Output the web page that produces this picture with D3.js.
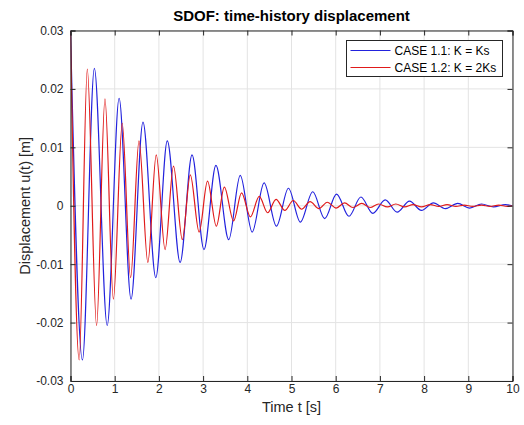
<!DOCTYPE html>
<html>
<head>
<meta charset="utf-8">
<script src="https://cdn.jsdelivr.net/npm/d3@7"></script>
<style>
    body { margin: 0; background: #ffffff; }
    text { font-family: "Liberation Sans", Arial, sans-serif; }
</style>
</head>
<body>
<div id="canvas"></div>
<script>
"use strict"

/* Data: extrema (peaks and troughs) of each response */
/* CASE 1.1: K = Ks */
let case1Time = [0, 0.27, 0.54, 0.83, 1.10, 1.37, 1.64, 1.93, 2.19, 2.48, 2.75, 3.02, 3.29, 3.58,
    3.84, 4.11, 4.38, 4.66, 4.93, 5.20, 5.48, 5.75, 6.02, 6.30, 6.57, 6.84, 7.12, 7.39, 7.67,
    7.94, 8.21, 8.48, 8.76, 9.03, 9.30, 9.57, 9.84, 10];
let case1Disp = [0.03, -0.0264, 0.0235, -0.0205, 0.0184, -0.0160, 0.0143, -0.0123, 0.0111, -0.0097,
    0.0087, -0.0075, 0.0069, -0.0058, 0.0052, -0.0045, 0.0039, -0.0035, 0.0030, -0.0028, 0.0024,
    -0.0022, 0.0020, -0.0018, 0.0015, -0.0013, 0.0010, -0.0011, 0.0008, -0.0008, 0.0005, -0.0005,
    0.0004, -0.0004, 0.0003, -0.0002, 0.0002, 0.0000];

/* CASE 1.2: K = 2Ks */
let case2Time = [0, 0.196, 0.38, 0.59, 0.78, 0.97, 1.17, 1.36, 1.55, 1.75, 1.94, 2.14, 2.33, 2.53,
    2.71, 2.91, 3.10, 3.30, 3.48, 3.69, 3.87, 4.07, 4.27, 4.46, 4.65, 4.85, 5.04, 5.23, 5.42, 5.62,
    5.81, 6.01, 6.20, 6.39, 6.59, 6.78, 6.97, 7.17, 7.36, 7.56, 7.75, 7.94, 8.14, 8.33, 8.52, 8.72,
    8.91, 9.10, 9.30, 9.49, 9.69, 9.88, 10];
let case2Disp = [0.03, -0.0264, 0.0234, -0.0205, 0.0183, -0.0160, 0.0141, -0.0123, 0.0111, -0.0097,
    0.0087, -0.0075, 0.0068, -0.0058, 0.0053, -0.0045, 0.0042, -0.0035, 0.0032, -0.0026, 0.0022,
    -0.0019, 0.0016, -0.0012, 0.0011, -0.0008, 0.0009, -0.0006, 0.0007, -0.0005, 0.0006, -0.0004,
    0.0005, -0.0003, 0.0004, -0.0003, 0.0003, -0.0002, 0.0003, -0.0002, 0.0002, -0.0002, 0.0002,
    -0.0001, 0.0002, -0.0001, 0.0001, -0.0001, 0.0001, -0.0001, 0.0001, -0.0001, 0.0000];

let xTicks = [0, 1, 2, 3, 4, 5, 6, 7, 8, 9, 10];
let yTicks = [-0.03, -0.02, -0.01, 0, 0.01, 0.02, 0.03];
let yTickLabels = ["-0.03", "-0.02", "-0.01", "0", "0.01", "0.02", "0.03"];
let seriesNames = ["CASE 1.1: K = Ks", "CASE 1.2: K = 2Ks"];

/* Configuration variables: drawing */
let svgWidth = 524;
let svgHeight = 425;
let leftMargin = 70.5
let rightMargin = 11.5
let topMargin = 30.5
let bottomMargin = 44
let axisColor = "#262626"
let gridColor = "#e3e3e3"
let lineColors = ["#2222dd", "#e01a1a"]

let svg = d3.select("#canvas")
    .append("svg")
    .attr("width", svgWidth)
    .attr("height", svgHeight);

/* Scales */
let xScale = d3.scaleLinear()
    .domain([0, 10])
    .range([leftMargin, svgWidth - rightMargin]);

let yScale = d3.scaleLinear()
    .domain([-0.03, 0.03])
    .range([svgHeight - bottomMargin, topMargin]);

/* grid lines */
svg.append("g")
    .selectAll("line.vgrid")
    .data(xTicks)
    .join("line")
    .attr("x1", d => xScale(d))
    .attr("x2", d => xScale(d))
    .attr("y1", yScale(-0.03))
    .attr("y2", yScale(0.03))
    .attr("stroke", gridColor);

svg.append("g")
    .selectAll("line.hgrid")
    .data(yTicks)
    .join("line")
    .attr("x1", xScale(0))
    .attr("x2", xScale(10))
    .attr("y1", d => yScale(d))
    .attr("y2", d => yScale(d))
    .attr("stroke", gridColor);

/* clip the curves to the plot box */
svg.append("clipPath")
    .attr("id", "plotClip")
    .append("rect")
    .attr("x", xScale(0))
    .attr("y", yScale(0.03))
    .attr("width", xScale(10) - xScale(0))
    .attr("height", yScale(-0.03) - yScale(0.03));

/* curves through the read extrema */
let line = d3.line()
    .x(d => xScale(d[0]))
    .y(d => yScale(d[1]))
    .curve(d3.curveMonotoneX);

let series = [d3.zip(case1Time, case1Disp), d3.zip(case2Time, case2Disp)];

svg.append("g")
    .attr("clip-path", "url(#plotClip)")
    .selectAll("path")
    .data(series)
    .join("path")
    .attr("d", d => line(d))
    .attr("fill", "none")
    .attr("stroke", (d, i) => lineColors[i])
    .attr("stroke-width", 1.2);

/* axes: bottom/left with labels, top/right with inner ticks only */
let xAxis = d3.axisBottom(xScale).tickValues(xTicks).tickSize(-5).tickPadding(3).tickFormat(d3.format("d"));
let yAxis = d3.axisLeft(yScale).tickValues(yTicks).tickSize(-5).tickPadding(7)
    .tickFormat((d, i) => yTickLabels[i]);
let xAxisTop = d3.axisTop(xScale).tickValues(xTicks).tickSize(-5).tickFormat("");
let yAxisRight = d3.axisRight(yScale).tickValues(yTicks).tickSize(-5).tickFormat("");

let axisGroups = [
    svg.append("g").attr("transform", `translate(0,${yScale(-0.03)})`).call(xAxis),
    svg.append("g").attr("transform", `translate(${xScale(0)},0)`).call(yAxis),
    svg.append("g").attr("transform", `translate(0,${yScale(0.03)})`).call(xAxisTop),
    svg.append("g").attr("transform", `translate(${xScale(10)},0)`).call(yAxisRight)
];

for (let i = 0; i < axisGroups.length; i++) {
    axisGroups[i].selectAll(".domain").attr("stroke", axisColor);
    axisGroups[i].selectAll(".tick line").attr("stroke", axisColor);
    axisGroups[i].selectAll(".tick text")
        .attr("fill", axisColor)
        .style("font-size", "12px")
        .style("font-family", "'Liberation Sans', Arial, sans-serif");
}

/**** title and axis labels ****/
svg.append("text")
    .attr("x", (xScale(0) + xScale(10)) / 2)
    .attr("y", 21)
    .attr("text-anchor", "middle")
    .attr("font-weight", "bold")
    .attr("font-size", "15px")
    .attr("fill", "#000000")
    .text("SDOF: time-history displacement");

svg.append("text")
    .attr("x", (xScale(0) + xScale(10)) / 2)
    .attr("y", 412)
    .attr("text-anchor", "middle")
    .attr("font-size", "14.5px")
    .attr("fill", axisColor)
    .text("Time t [s]");

svg.append("text")
    .attr("x", -yScale(0))
    .attr("y", 30)
    .attr("text-anchor", "middle")
    .attr("font-size", "14.5px")
    .attr("fill", axisColor)
    .attr("transform", "rotate(-90)")
    .text("Displacement u(t) [m]");

/* Legend */
let legendX = 346.5
let legendY = 40.5

svg.append("rect")
    .attr("x", legendX)
    .attr("y", legendY)
    .attr("width", 156)
    .attr("height", 36)
    .attr("fill", "#ffffff")
    .attr("stroke", axisColor);

for (let i = 0; i < seriesNames.length; i++) {
    svg.append("line")
        .attr("x1", legendX + 4)
        .attr("x2", legendX + 44)
        .attr("y1", legendY + 10 + i * 17)
        .attr("y2", legendY + 10 + i * 17)
        .attr("stroke", lineColors[i])
        .attr("stroke-width", 1.2);

    svg.append("text")
        .attr("x", legendX + 48)
        .attr("y", legendY + 10 + i * 17)
        .attr("dominant-baseline", "central")
        .attr("font-size", "12px")
        .attr("fill", "#000000")
        .text(seriesNames[i]);
}
</script>
</body>
</html>
